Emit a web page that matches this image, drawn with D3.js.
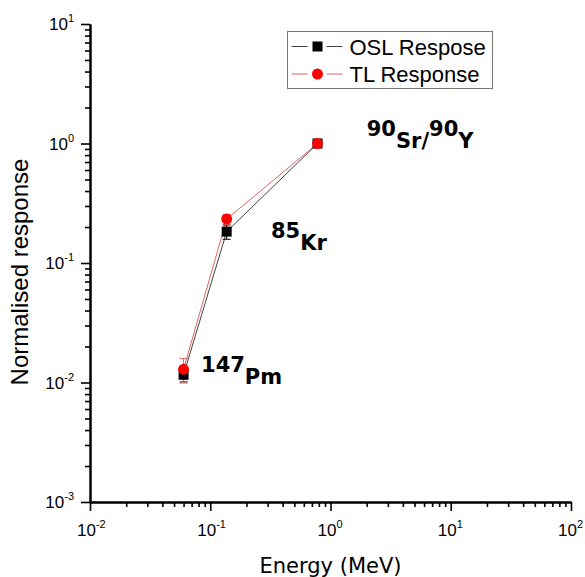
<!DOCTYPE html>
<html>
<head>
<meta charset="utf-8">
<script src="https://cdn.jsdelivr.net/npm/d3@7"></script>
<style>
  html, body { margin: 0; padding: 0; background: #fff; }
  svg { display: block; }
  .tick-label { font-family: "Liberation Sans", Arial, sans-serif; font-size: 17px; fill: #000; }
  .axis-title { fill: #000; }
  .legend-text { font-family: "Liberation Sans", Arial, sans-serif; font-size: 22px; fill: #000; }
  .note { font-family: "DejaVu Sans", Verdana, sans-serif; font-size: 21px; font-weight: bold; fill: #000; }
</style>
</head>
<body>
<div id="chart"></div>
<script>
// Beta source energies (MeV) and normalised responses
const energies = [0.06, 0.137, 0.78];
const oslResponse = [0.0116, 0.183, 1.0];
const oslError = [0.0015, 0.025, 0.03];
const tlResponse = [0.0129, 0.233, 1.0];
const tlError = [0.003, 0.022, 0.03];

const legendLabels = ['OSL Respose', 'TL Response'];

// Source labels, anchored in data space (energy, response)
const sourceNotes = [
  { e: 2.0, r: 0.917, parts: [['90', 'Sr'], ['/', null], ['90', 'Y']] },
  { e: 0.32, r: 0.1285, parts: [['85', 'Kr']] },
  { e: 0.0838, r: 0.0097, parts: [['147', 'Pm']] },
];

const xDecades = [-2, -1, 0, 1, 2];
const yDecades = [-3, -2, -1, 0, 1];

const width = 585, height = 577;
const margin = { left: 90, right: 14, top: 24, bottom: 75 };

const OSL_LINE = '#444';
const TL_LINE = '#e06666';

const svg = d3.select('#chart').append('svg')
  .attr('width', width)
  .attr('height', height);

const x = d3.scaleLog()
  .domain([1e-2, 1e2])
  .range([margin.left, width - margin.right]);
const y = d3.scaleLog()
  .domain([1e-3, 1e1])
  .range([height - margin.bottom, margin.top]);

const x0 = margin.left, y0 = height - margin.bottom;

// minor tick values: 2..9 within each decade
function minors(decades) {
  const out = [];
  for (let i = 0; i < decades.length - 1; i++) {
    for (let m = 2; m <= 9; m++) out.push(m * Math.pow(10, decades[i]));
  }
  return out;
}
const majorsX = xDecades.map(d => Math.pow(10, d));
const majorsY = yDecades.map(d => Math.pow(10, d));

function styleAxis(g) {
  g.select('.domain').attr('stroke', '#000').attr('stroke-width', 2);
  g.selectAll('.tick line').attr('stroke', '#000').attr('stroke-width', 1.6);
}

// x axis: minor then major ticks
svg.append('g')
  .attr('transform', `translate(0,${y0})`)
  .call(d3.axisBottom(x).tickValues(minors(xDecades)).tickSize(5).tickSizeOuter(0).tickFormat(''))
  .call(styleAxis);
svg.append('g')
  .attr('transform', `translate(0,${y0})`)
  .call(d3.axisBottom(x).tickValues(majorsX).tickSize(9).tickSizeOuter(0).tickFormat(''))
  .call(styleAxis);

// y axis
svg.append('g')
  .attr('transform', `translate(${x0},0)`)
  .call(d3.axisLeft(y).tickValues(minors(yDecades)).tickSize(5).tickSizeOuter(0).tickFormat(''))
  .call(styleAxis);
svg.append('g')
  .attr('transform', `translate(${x0},0)`)
  .call(d3.axisLeft(y).tickValues(majorsY).tickSize(9).tickSizeOuter(0).tickFormat(''))
  .call(styleAxis);

// power-of-ten tick labels
function powLabel(sel, exp) {
  sel.append('tspan').text('10');
  sel.append('tspan').attr('dy', -8).attr('font-size', '11px').text(exp);
}
xDecades.forEach(d => {
  const t = svg.append('text').attr('class', 'tick-label')
    .attr('x', x(Math.pow(10, d)) - 13)
    .attr('y', y0 + 34);
  powLabel(t, d);
});
yDecades.forEach(d => {
  const t = svg.append('text').attr('class', 'tick-label')
    .attr('text-anchor', 'end')
    .attr('x', x0 - 16)
    .attr('y', y(Math.pow(10, d)) + 6);
  powLabel(t, d);
});

// axis titles
svg.append('text').attr('class', 'axis-title')
  .attr('x', (x.range()[0] + x.range()[1]) / 2)
  .attr('y', 573)
  .attr('text-anchor', 'middle')
  .style('font-family', '"DejaVu Sans", Verdana, sans-serif')
  .style('font-size', '21px')
  .text('Energy (MeV)');
svg.append('text').attr('class', 'axis-title')
  .attr('transform', 'translate(28,272) rotate(-90)')
  .attr('text-anchor', 'middle')
  .style('font-family', '"Liberation Sans", Arial, sans-serif')
  .style('font-size', '24px')
  .text('Normalised response');

// series
const osl = energies.map((e, i) => ({ e, r: oslResponse[i], err: oslError[i] }));
const tl = energies.map((e, i) => ({ e, r: tlResponse[i], err: tlError[i] }));

const line = d3.line().x(d => x(d.e)).y(d => y(d.r));

svg.append('path').datum(osl)
  .attr('d', line).attr('fill', 'none')
  .attr('stroke', OSL_LINE).attr('stroke-width', 1);
svg.append('path').datum(tl)
  .attr('d', line).attr('fill', 'none')
  .attr('stroke', TL_LINE).attr('stroke-width', 1);

function errorBars(data, color) {
  const g = svg.append('g').attr('stroke', color).attr('stroke-width', 1);
  data.forEach(d => {
    const cx = x(d.e), top = y(d.r + d.err), bot = y(d.r - d.err);
    g.append('line').attr('x1', cx).attr('x2', cx).attr('y1', top).attr('y2', bot);
    g.append('line').attr('x1', cx - 4).attr('x2', cx + 4).attr('y1', top).attr('y2', top);
    g.append('line').attr('x1', cx - 4).attr('x2', cx + 4).attr('y1', bot).attr('y2', bot);
  });
}
errorBars(osl, '#000');
errorBars(tl, TL_LINE);

svg.append('g').selectAll('rect').data(osl).join('rect')
  .attr('x', d => x(d.e) - 5).attr('y', d => y(d.r) - 5)
  .attr('width', 10).attr('height', 10)
  .attr('fill', '#000');
svg.append('g').selectAll('circle').data(tl).join('circle')
  .attr('cx', d => x(d.e)).attr('cy', d => y(d.r))
  .attr('r', 5.5)
  .attr('fill', '#ff0000');

// source annotations
sourceNotes.forEach(n => {
  const t = svg.append('text').attr('class', 'note')
    .attr('x', x(n.e)).attr('y', y(n.r));
  n.parts.forEach(([big, sub]) => {
    if (sub === null) {
      t.append('tspan').text(big);
    } else {
      t.append('tspan').attr('dy', -12).text(big);
      t.append('tspan').attr('dy', 12).text(sub);
    }
  });
});

// legend
const lg = svg.append('g').attr('transform', 'translate(287.5,31.5)');
lg.append('rect').attr('width', 205).attr('height', 57)
  .attr('fill', '#fff').attr('stroke', '#777').attr('stroke-width', 1);
const rows = [
  { label: legendLabels[0], color: OSL_LINE, shape: 'square' },
  { label: legendLabels[1], color: TL_LINE, shape: 'circle' },
];
rows.forEach((row, i) => {
  const cy = 15 + i * 27.5;
  // line sample with a small gap either side of the marker
  lg.append('line').attr('x1', 4).attr('x2', 20).attr('y1', cy).attr('y2', cy)
    .attr('stroke', row.color).attr('stroke-width', 1);
  lg.append('line').attr('x1', 39).attr('x2', 55).attr('y1', cy).attr('y2', cy)
    .attr('stroke', row.color).attr('stroke-width', 1);
  if (row.shape === 'square') {
    lg.append('rect').attr('x', 25).attr('y', cy - 5).attr('width', 10).attr('height', 10).attr('fill', '#000');
  } else {
    lg.append('circle').attr('cx', 30).attr('cy', cy).attr('r', 5.5).attr('fill', '#ff0000');
  }
  lg.append('text').attr('class', 'legend-text')
    .attr('x', 62).attr('y', cy + 8)
    .text(row.label);
});
</script>
</body>
</html>
